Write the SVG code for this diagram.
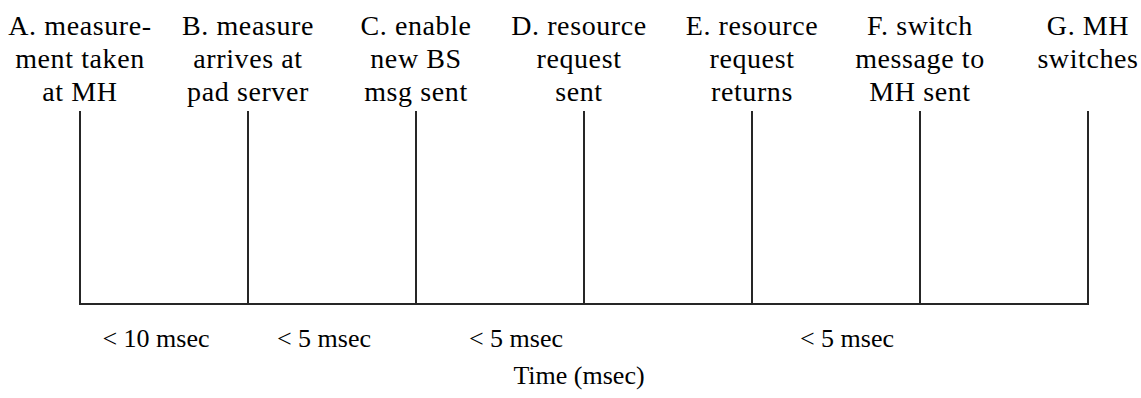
<svg xmlns="http://www.w3.org/2000/svg" width="1141" height="398" viewBox="0 0 1141 398">
<style>
text{fill:#000;text-anchor:middle}
.lbl{font-size:28px;letter-spacing:0.6px}
.dur{font-size:26px}
.ln{stroke:#262626;stroke-width:2;fill:none;stroke-linecap:square}
</style>
<rect width="1141" height="398" fill="#fff"/>
<g id="nodeA"><text font-family="Liberation Serif" class="lbl" x="80" y="35">A. measure-</text><text font-family="Liberation Serif" class="lbl" x="80" y="68">ment taken</text><text font-family="Liberation Serif" class="lbl" x="80" y="101">at MH</text></g>
<g id="nodeB"><text font-family="Liberation Serif" class="lbl" x="248" y="35">B. measure</text><text font-family="Liberation Serif" class="lbl" x="248" y="68">arrives at</text><text font-family="Liberation Serif" class="lbl" x="248" y="101">pad server</text></g>
<g id="nodeC"><text font-family="Liberation Serif" class="lbl" x="416" y="35">C. enable</text><text font-family="Liberation Serif" class="lbl" x="416" y="68">new BS</text><text font-family="Liberation Serif" class="lbl" x="416" y="101">msg sent</text></g>
<g id="nodeD"><text font-family="Liberation Serif" class="lbl" x="579" y="35">D. resource</text><text font-family="Liberation Serif" class="lbl" x="579" y="68">request</text><text font-family="Liberation Serif" class="lbl" x="579" y="101">sent</text></g>
<g id="nodeE"><text font-family="Liberation Serif" class="lbl" x="752" y="35">E. resource</text><text font-family="Liberation Serif" class="lbl" x="752" y="68">request</text><text font-family="Liberation Serif" class="lbl" x="752" y="101">returns</text></g>
<g id="nodeF"><text font-family="Liberation Serif" class="lbl" x="920" y="35">F. switch</text><text font-family="Liberation Serif" class="lbl" x="920" y="68">message to</text><text font-family="Liberation Serif" class="lbl" x="920" y="101">MH sent</text></g>
<g id="nodeG"><text font-family="Liberation Serif" class="lbl" x="1088" y="35">G. MH</text><text font-family="Liberation Serif" class="lbl" x="1088" y="68">switches</text></g>
<g id="connectors">
<path class="ln" d="M80 112V304H1088V112"/>
<path class="ln" d="M248 112V304M416 112V304M584 112V304M752 112V304M920 112V304"/>
</g>
<g id="durations">
<text font-family="Liberation Serif" class="dur" x="156" y="347">&lt; 10 msec</text>
<text font-family="Liberation Serif" class="dur" x="324" y="347">&lt; 5 msec</text>
<text font-family="Liberation Serif" class="dur" x="516" y="347">&lt; 5 msec</text>
<text font-family="Liberation Serif" class="dur" x="847" y="347">&lt; 5 msec</text>
<text font-family="Liberation Serif" class="dur" x="579" y="384">Time (msec)</text>
</g>
</svg>
